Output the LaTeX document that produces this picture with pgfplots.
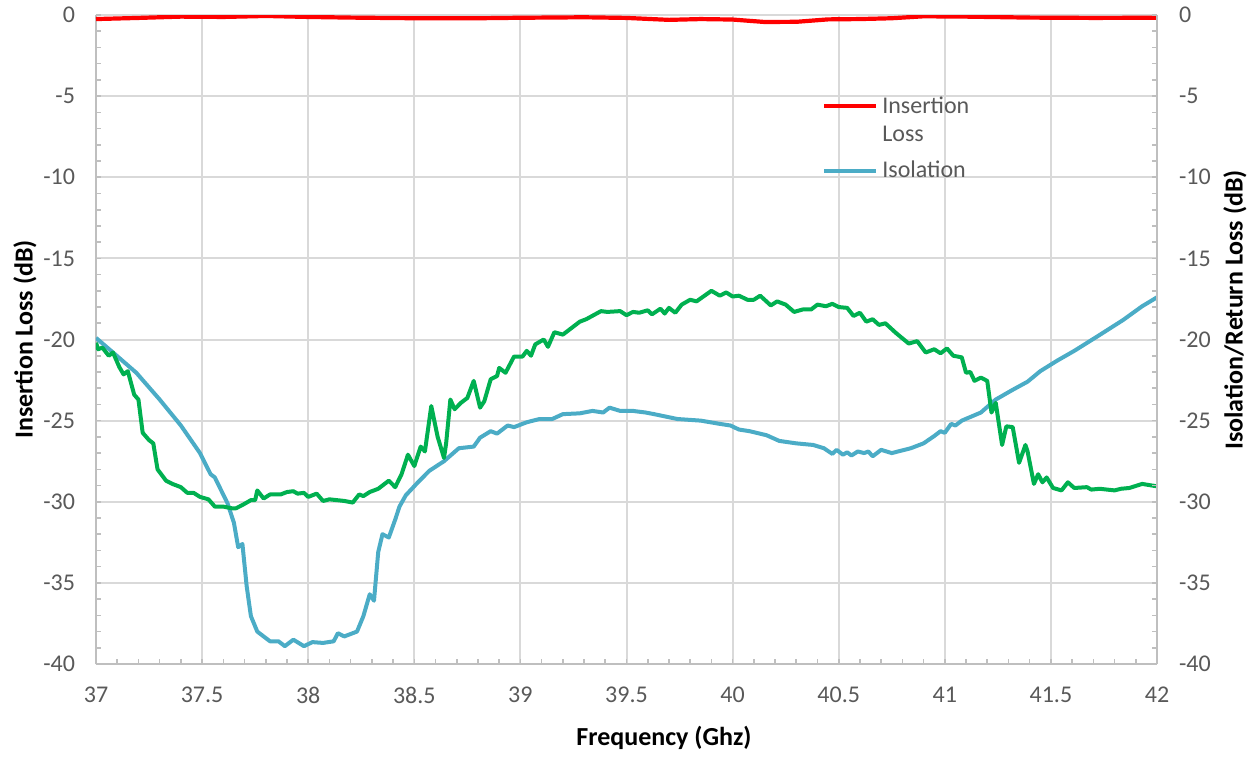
\documentclass[border=0pt]{standalone}
\usepackage{pgfplots}
\pgfplotsset{compat=1.18}
\usepackage{pgfplotstable}
\usepackage{fontspec}
\setmainfont{Carlito}
\definecolor{tickgray}{HTML}{595959}
\definecolor{gridgray}{HTML}{D9D9D9}
\definecolor{axgray}{HTML}{BFBFBF}
\definecolor{iso}{HTML}{4BACC6}
\definecolor{rl}{HTML}{00B050}

\pgfplotstableread{
x y
37.00 -0.25
37.20 -0.18
37.40 -0.10
37.60 -0.12
37.80 -0.06
38.00 -0.12
38.20 -0.16
38.50 -0.20
38.80 -0.20
39.00 -0.17
39.30 -0.14
39.50 -0.18
39.70 -0.30
39.85 -0.25
40.00 -0.28
40.15 -0.43
40.30 -0.42
40.45 -0.27
40.60 -0.25
40.75 -0.20
40.90 -0.08
41.10 -0.10
41.40 -0.16
41.70 -0.18
42.00 -0.17
}\insloss

\pgfplotstableread{
x y
37.00 -19.9
37.08 -20.8
37.19 -22.05
37.30 -23.7
37.40 -25.3
37.49 -27.0
37.54 -28.3
37.56 -28.5
37.62 -30.1
37.65 -31.3
37.67 -32.8
37.69 -32.6
37.71 -35.2
37.73 -37.05
37.76 -38.0
37.82 -38.6
37.86 -38.6
37.89 -38.9
37.93 -38.5
37.98 -38.9
38.02 -38.65
38.07 -38.7
38.12 -38.6
38.14 -38.1
38.17 -38.3
38.23 -38.0
38.26 -37.05
38.29 -35.7
38.31 -36.1
38.33 -33.1
38.35 -32.0
38.38 -32.2
38.41 -31.1
38.43 -30.3
38.46 -29.6
38.51 -28.9
38.57 -28.1
38.64 -27.5
38.71 -26.7
38.78 -26.6
38.81 -26.05
38.86 -25.65
38.89 -25.8
38.94 -25.3
38.97 -25.4
39.03 -25.1
39.09 -24.9
39.15 -24.9
39.20 -24.6
39.28 -24.55
39.34 -24.4
39.39 -24.5
39.42 -24.2
39.47 -24.4
39.53 -24.4
39.59 -24.5
39.63 -24.6
39.74 -24.9
39.85 -25.0
39.94 -25.2
39.99 -25.3
40.03 -25.55
40.08 -25.65
40.16 -25.9
40.22 -26.25
40.30 -26.4
40.38 -26.5
40.43 -26.7
40.47 -27.05
40.49 -26.8
40.52 -27.1
40.54 -26.95
40.56 -27.15
40.59 -26.9
40.62 -27.0
40.64 -26.9
40.66 -27.2
40.70 -26.8
40.75 -27.0
40.84 -26.7
40.90 -26.4
40.95 -25.95
40.98 -25.65
41.00 -25.75
41.03 -25.2
41.05 -25.3
41.08 -25.0
41.17 -24.5
41.24 -23.7
41.32 -23.1
41.39 -22.6
41.45 -21.95
41.53 -21.3
41.61 -20.7
41.72 -19.8
41.84 -18.8
41.93 -17.95
42.00 -17.4
}\isolation

\pgfplotstableread{
x y
37.00 -20.2
37.01 -20.6
37.03 -20.5
37.06 -21.0
37.08 -20.8
37.11 -21.7
37.13 -22.15
37.15 -21.95
37.18 -23.4
37.20 -23.7
37.22 -25.75
37.25 -26.2
37.27 -26.4
37.29 -28.0
37.33 -28.7
37.36 -28.9
37.40 -29.1
37.43 -29.45
37.46 -29.45
37.49 -29.7
37.53 -29.85
37.56 -30.3
37.60 -30.3
37.64 -30.4
37.66 -30.4
37.69 -30.2
37.73 -29.9
37.75 -29.9
37.76 -29.3
37.79 -29.8
37.82 -29.55
37.87 -29.55
37.90 -29.4
37.93 -29.35
37.95 -29.5
37.98 -29.45
38.00 -29.7
38.04 -29.5
38.07 -29.95
38.10 -29.85
38.17 -29.95
38.21 -30.05
38.24 -29.55
38.26 -29.65
38.29 -29.4
38.33 -29.2
38.36 -28.9
38.38 -28.7
38.41 -29.1
38.44 -28.3
38.47 -27.1
38.50 -27.8
38.53 -26.6
38.55 -26.9
38.58 -24.1
38.61 -26.0
38.64 -27.3
38.65 -26.4
38.67 -23.7
38.69 -24.3
38.72 -23.9
38.75 -23.6
38.78 -22.55
38.81 -24.2
38.83 -23.8
38.86 -22.45
38.89 -22.25
38.90 -21.75
38.93 -22.05
38.97 -21.05
39.01 -21.05
39.03 -20.7
39.05 -21.0
39.07 -20.3
39.11 -20.0
39.13 -20.45
39.16 -19.55
39.20 -19.7
39.24 -19.3
39.28 -18.9
39.31 -18.75
39.38 -18.25
39.41 -18.3
39.47 -18.25
39.50 -18.5
39.53 -18.3
39.56 -18.35
39.60 -18.2
39.62 -18.45
39.66 -18.1
39.68 -18.4
39.70 -18.05
39.73 -18.35
39.76 -17.85
39.80 -17.55
39.83 -17.65
39.90 -17.0
39.94 -17.3
39.97 -17.1
40.00 -17.35
40.03 -17.3
40.07 -17.55
40.10 -17.55
40.13 -17.3
40.18 -17.9
40.21 -17.65
40.25 -17.85
40.29 -18.3
40.33 -18.15
40.37 -18.15
40.40 -17.85
40.44 -17.95
40.47 -17.8
40.50 -18.0
40.54 -18.05
40.57 -18.55
40.60 -18.35
40.63 -18.9
40.66 -18.75
40.69 -19.1
40.72 -19.0
40.77 -19.6
40.83 -20.25
40.87 -20.1
40.91 -20.8
40.95 -20.6
40.98 -20.85
41.01 -20.55
41.04 -21.0
41.08 -21.1
41.10 -22.05
41.12 -22.0
41.14 -22.55
41.17 -22.35
41.20 -22.55
41.22 -24.5
41.24 -23.9
41.27 -26.5
41.29 -25.35
41.32 -25.4
41.35 -27.6
41.38 -26.5
41.39 -26.9
41.42 -28.9
41.44 -28.3
41.46 -28.8
41.48 -28.5
41.51 -29.15
41.55 -29.3
41.58 -28.8
41.61 -29.15
41.67 -29.1
41.69 -29.25
41.73 -29.2
41.80 -29.3
41.83 -29.2
41.87 -29.15
41.93 -28.9
42.00 -29.05
}\returnloss

\newcommand{\labfont}{\fontsize{13}{15}\selectfont\bfseries}

\pgfplotsset{
  common/.style={
    scale only axis, width=530.5pt, height=324.5pt,
    xmin=37, xmax=42, ymin=-40, ymax=0,
    ytick={-40,-35,...,0},
    minor y tick num=4,
    tick align=inside,
    major tick length=2.5pt, minor tick length=2.5pt,
    every tick/.style={axgray, line width=0.8pt},
    axis line style={axgray, line width=1.2pt},
    /pgf/number format/assume math mode=true,
    ticklabel style={font=\fontsize{12}{14}\selectfont, text=tickgray},
  },
  shiftimg/.style={legend image code/.code={\draw[##1] (0pt,7.5pt) -- (26pt,7.5pt);}},
}

\begin{document}
\begin{tikzpicture}
\useasboundingbox (-48pt,-46.5pt) rectangle (577.5pt,332pt);
\begin{axis}[
  common,
  axis x line*=bottom, axis y line*=left,
  xtick={37,37.5,...,42},
  minor x tick num=4,
  grid=major,
  major grid style={gridgray, line width=1pt},
  xticklabel style={yshift=-8pt},
  yticklabel style={xshift=-7pt},
  xlabel={Frequency (Ghz)},
  ylabel={Insertion Loss (dB)},
  every axis x label/.style={at={(axis description cs:0.5353,-0.114)}, anchor=center, font=\labfont, text=black},
  every axis y label/.style={at={(axis description cs:-0.0669,0.5)}, anchor=center, rotate=90, font=\labfont, text=black},
  legend style={at={(0.684,0.88)}, anchor=north west, draw=none, fill=none,
    font=\fontsize{12}{14}\selectfont, text=tickgray, cells={align=left},
    row sep=4pt, inner sep=0pt},
  legend cell align=left,
  legend image code/.code={\draw[#1] (0pt,0pt) -- (26pt,0pt);},
]
\addplot[red, line width=2.1pt, line join=round, shiftimg] table {\insloss};
\addlegendentry{Insertion\\Loss}
\addplot[iso, line width=2pt, line join=round] table {\isolation};
\addlegendentry{Isolation}
\addplot[rl, line width=2pt, line join=round, forget plot] table {\returnloss};
\end{axis}
\begin{axis}[
  common,
  axis y line*=right, axis x line=none,
  yticklabel style={xshift=7.5pt},
  ylabel={Isolation/Return Loss (dB)},
  every axis y label/.style={at={(axis description cs:1.0735,0.5455)}, anchor=center, rotate=90, font=\labfont, text=black},
]
\addplot[draw=none] coordinates {(37,-10)};
\end{axis}
\end{tikzpicture}
\end{document}
